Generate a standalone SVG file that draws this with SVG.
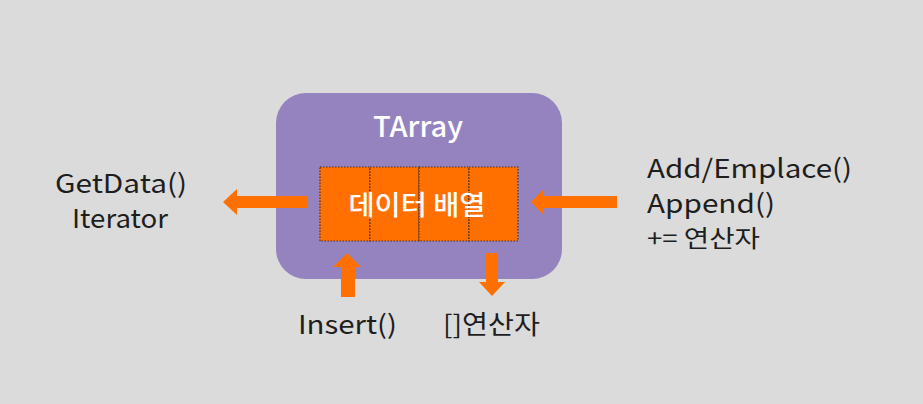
<svg xmlns="http://www.w3.org/2000/svg" width="923" height="404" viewBox="0 0 923 404">
<style>
.lbl{font-family:"Noto Sans CJK KR","Noto Sans",sans-serif;font-size:26px;fill:#1e1e1e}
.sm{font-size:24px}
.wt{font-family:"Noto Sans CJK KR","Noto Sans",sans-serif;fill:#ffffff;font-weight:500}
.arr{fill:#ff7000}
.cell{fill:#ff7000;stroke:#4a3020;stroke-width:1.2;stroke-dasharray:1.5 1.5}
</style>
<rect x="0" y="0" width="923" height="404" fill="#dbdbdb"/>
<g id="tarray">
<rect x="276" y="93" width="286" height="186" rx="30" ry="30" fill="#9583bf"/>
<text class="wt" x="418" y="137" font-size="28" text-anchor="middle" textLength="90" lengthAdjust="spacingAndGlyphs">TArray</text>
</g>
<g id="data-array">
<rect class="cell" x="320" y="167" width="50" height="74"/>
<rect class="cell" x="370" y="167" width="49" height="74"/>
<rect class="cell" x="419" y="167" width="50" height="74"/>
<rect class="cell" x="469" y="167" width="49" height="74"/>
<text class="wt" x="417" y="215" font-size="27" text-anchor="middle" textLength="137" lengthAdjust="spacingAndGlyphs">데이터 배열</text>
</g>
<g id="connectors">
<polygon class="arr" points="308,196 237,196 237,189 223,202 237,215 237,208 308,208"/>
<polygon class="arr" points="617,196 543,196 543,190 531,202 543,214 543,208 617,208"/>
<polygon class="arr" points="341,297 341,267 333,267 347,253 361,267 355,267 355,297"/>
<polygon class="arr" points="486,253 486,282 479,282 492,296 505,282 498,282 498,253"/>
</g>
<g id="getdata">
<text class="lbl" x="121" y="193" text-anchor="middle" textLength="132" lengthAdjust="spacingAndGlyphs">GetData()</text>
<text class="lbl" x="120" y="228" text-anchor="middle" textLength="96" lengthAdjust="spacingAndGlyphs">Iterator</text>
</g>
<g id="add">
<text class="lbl" x="647" y="178" textLength="205" lengthAdjust="spacingAndGlyphs">Add/Emplace()</text>
<text class="lbl" x="647" y="213" textLength="128" lengthAdjust="spacingAndGlyphs">Append()</text>
<text class="lbl sm" x="647" y="247" textLength="113" lengthAdjust="spacingAndGlyphs">+= 연산자</text>
</g>
<g id="insert">
<text class="lbl" x="298" y="334" textLength="99" lengthAdjust="spacingAndGlyphs">Insert()</text>
</g>
<g id="subscript">
<text class="lbl" x="443" y="334" textLength="97" lengthAdjust="spacingAndGlyphs">[]연산자</text>
</g>
</svg>
